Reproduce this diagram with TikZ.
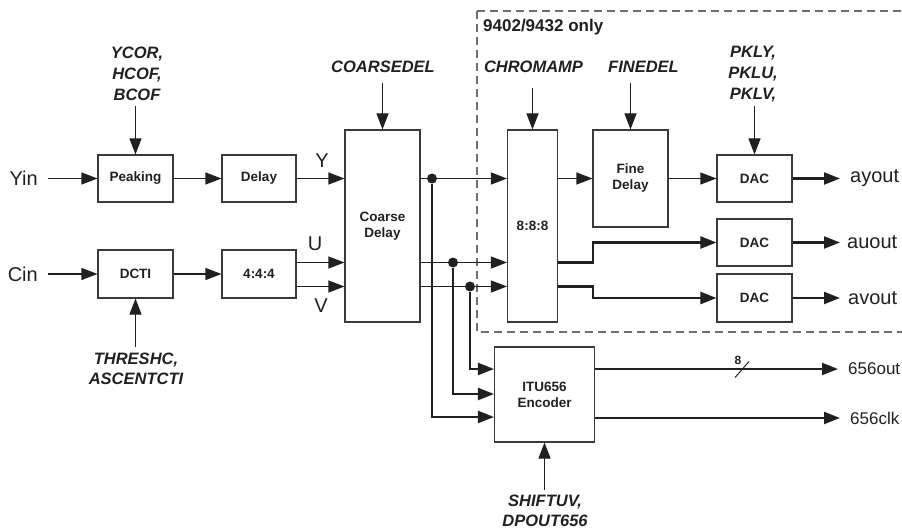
\documentclass[tikz,border=0pt]{standalone}
\usepackage{fontspec}
\setmainfont{Liberation Sans}
\usetikzlibrary{arrows.meta,calc}
\definecolor{ink}{HTML}{231F20}
\definecolor{boxline}{HTML}{3A3A3A}
\definecolor{dashgray}{HTML}{6D6E71}
\begin{document}
\begin{tikzpicture}[x=1pt,y=-1pt,
  box/.style={draw=boxline, line width=1.1pt, inner sep=0pt, align=center, text=ink,
    font=\fontsize{13.5}{16}\selectfont\bfseries},
  sig/.style={draw=ink, line width=1.1pt},
  bus/.style={draw=ink, line width=2.2pt},
  arr/.style={-{Triangle[length=16pt,width=12pt]}},
  ctl/.style={font=\fontsize{16.5}{21}\selectfont\bfseries\itshape, align=center, inner sep=0pt, text=ink},
  io/.style={font=\fontsize{20}{24}\selectfont, inner ysep=0pt, inner xsep=10pt, text=ink},
  sigtxt/.style={font=\fontsize{20}{24}\selectfont, inner sep=0pt, text=ink},
  outtxt/.style={font=\fontsize{17}{21}\selectfont, inner ysep=0pt, inner xsep=10pt, text=ink},
  dotnode/.style={circle, fill=ink, inner sep=0pt, minimum size=10pt},
  dashbox/.style={draw=dashgray, line width=1.3pt, dash pattern=on 8pt off 5pt}
]
\useasboundingbox (0,0) rectangle (902,529);
\clip (0,0) rectangle (902,529);

% region of the 9402/9432 only
\draw[dashbox] (477,11) -- (915,11) (477,11) -- (477,332) -- (915,332);
\node[font=\fontsize{17}{20}\selectfont\bfseries, text=ink, inner sep=0pt, anchor=base west] (only) at (483,32) {9402/9432 only};

% boxes
\node[box, minimum width=75pt, minimum height=47pt] (peak) at (135.5,178.5) {Peaking};
\node[box, minimum width=74pt, minimum height=47pt] (delay) at (259,178.5) {Delay};
\node[box, minimum width=75pt, minimum height=48pt] (dcti) at (135.5,274) {DCTI};
\node[box, minimum width=74pt, minimum height=48pt] (f444) at (259,274) {4:4:4};
\node[box, minimum width=75pt, minimum height=192pt] (coarse) at (382.5,226) {Coarse\\Delay};
\node[box, minimum width=50pt, minimum height=192pt] (c888) at (532.5,226) {8:8:8};
\node[box, minimum width=75pt, minimum height=97pt] (fine) at (630.5,178.5) {Fine\\Delay};
\node[box, minimum width=75pt, minimum height=47pt] (dac1) at (754.5,178.5) {DAC};
\node[box, minimum width=75pt, minimum height=47pt] (dac2) at (754.5,242.5) {DAC};
\node[box, minimum width=75pt, minimum height=48pt] (dac3) at (754.5,298) {DAC};
\node[box, minimum width=100pt, minimum height=95pt] (itu) at (544.5,394.5) {ITU656\\Encoder};

% control labels
\node[ctl, anchor=south] (ycor) at (137,101) {YCOR,\\HCOF,\\BCOF};
\node[ctl, anchor=south] (cdel) at (383,73) {COARSEDEL};
\node[ctl, anchor=south] (chroma) at (533.5,73) {CHROMAMP};
\node[ctl, anchor=south] (fdel) at (643.5,73) {FINEDEL};
\node[ctl, anchor=south] (pkl) at (753,102) {PKLY,\\PKLU,\\PKLV,};
\node[ctl, anchor=north, font=\fontsize{16.5}{20}\selectfont\bfseries\itshape] (thr) at (136,353) {THRESHC,\\ASCENTCTI};
\node[ctl, anchor=north, font=\fontsize{16.5}{20}\selectfont\bfseries\itshape] (shift) at (545,495) {SHIFTUV,\\DPOUT656};

\draw[sig,arr] (ycor.south -| peak.north) ++(0,5) -- (peak.north);
\draw[sig,arr] (cdel.south -| coarse.north) ++(0,10) -- (coarse.north);
\draw[sig,arr] (chroma.south -| c888.north) ++(0,15) -- (c888.north);
\draw[sig,arr] (fdel.south -| fine.north) ++(0,10) -- (fine.north);
\draw[sig,arr] (pkl.south -| dac1.north) ++(0,4) -- (dac1.north);
\draw[sig,arr] (thr.north -| dcti.south) ++(0,-6) -- (dcti.south);
\draw[sig,arr] (shift.north -| itu.south) ++(0,-5) -- (itu.south);

% inputs
\node[io, anchor=east] (yin) at (48,178.5) {Yin};
\node[io, anchor=east] (cin) at (48,274) {Cin};
\draw[sig,arr] (yin.east) -- (peak.west);
\draw[sig,arr] (cin.east) -- (dcti.west);
\draw[sig,arr] (peak.east) -- (delay.west);
\draw[sig,arr] (dcti.east) -- (f444.west);

% Y, U, V into coarse delay
\coordinate (lvU) at (0,262.5);
\coordinate (lvV) at (0,286.5);
\draw[sig,arr] (delay.east) -- (coarse.west |- delay.east);
\draw[sig,arr] (f444.east |- lvU) -- (coarse.west |- lvU);
\draw[sig,arr] (f444.east |- lvV) -- (coarse.west |- lvV);
\node[sigtxt] (ylbl) at (322,161) {Y};
\node[sigtxt] (ulbl) at (315,244) {U};
\node[sigtxt] (vlbl) at (321,306) {V};

% junction dots
\node[dotnode] (dY) at (432,178.5) {};
\node[dotnode] (dU) at (453,262.5) {};
\node[dotnode] (dV) at (470,286.5) {};

% coarse delay -> 8:8:8
\draw[sig] (coarse.east |- dY) -- (dY);
\draw[sig,arr] (dY) -- (c888.west |- dY);
\draw[sig] (coarse.east |- dU) -- (dU);
\draw[sig,arr] (dU) -- (c888.west |- dU);
\draw[sig] (coarse.east |- dV) -- (dV);
\draw[sig,arr] (dV) -- (c888.west |- dV);

% taps to the ITU656 encoder
\coordinate (inV) at (0,369);
\coordinate (inU) at (0,394);
\coordinate (inY) at (0,417);
\draw[bus,arr] (dV) -- (dV |- inV) -- (itu.west |- inV);
\draw[bus,arr] (dU) -- (dU |- inU) -- (itu.west |- inU);
\draw[bus,arr] (dY) -- (dY |- inY) -- (itu.west |- inY);

% 8:8:8 -> fine delay / DACs
\coordinate (jog) at (593,0);
\draw[sig,arr] (c888.east |- dY) -- (fine.west |- dY);
\draw[sig,arr] (fine.east |- dac1.west) -- (dac1.west);
\draw[bus,arr] (c888.east |- lvU) -- (jog |- lvU) -- (jog |- dac2.west) -- (dac2.west);
\draw[bus,arr] (c888.east |- lvV) -- (jog |- lvV) -- (jog |- dac3.west) -- (dac3.west);

% analog outputs
\node[io, anchor=west] (ayout) at (840,178.5) {ayout};
\node[io, anchor=west] (auout) at (837,242.5) {auout};
\node[io, anchor=west] (avout) at (838,298) {avout};
\draw[bus,arr] (dac1.east) -- (dac1.east -| ayout.west);
\draw[bus,arr] (dac2.east) -- (dac2.east -| ayout.west);
\draw[bus,arr] (dac3.east) -- (dac3.east -| ayout.west);

% digital outputs
\node[outtxt, anchor=west] (o656) at (838,369) {656out};
\node[outtxt, anchor=west] (c656) at (840,418) {656clk};
\draw[bus,arr] (itu.east |- o656.west) -- (o656.west);
\draw[bus,arr] (itu.east |- c656.west) -- (c656.west);
\coordinate (slash) at (742,369.5);
\draw[draw=ink, line width=1pt] ($(slash)+(-7,8)$) -- ($(slash)+(7,-8)$);
\node[font=\fontsize{12}{14}\selectfont\bfseries, text=ink, inner sep=0pt] (eight) at (738,360) {8};
\end{tikzpicture}
\end{document}
